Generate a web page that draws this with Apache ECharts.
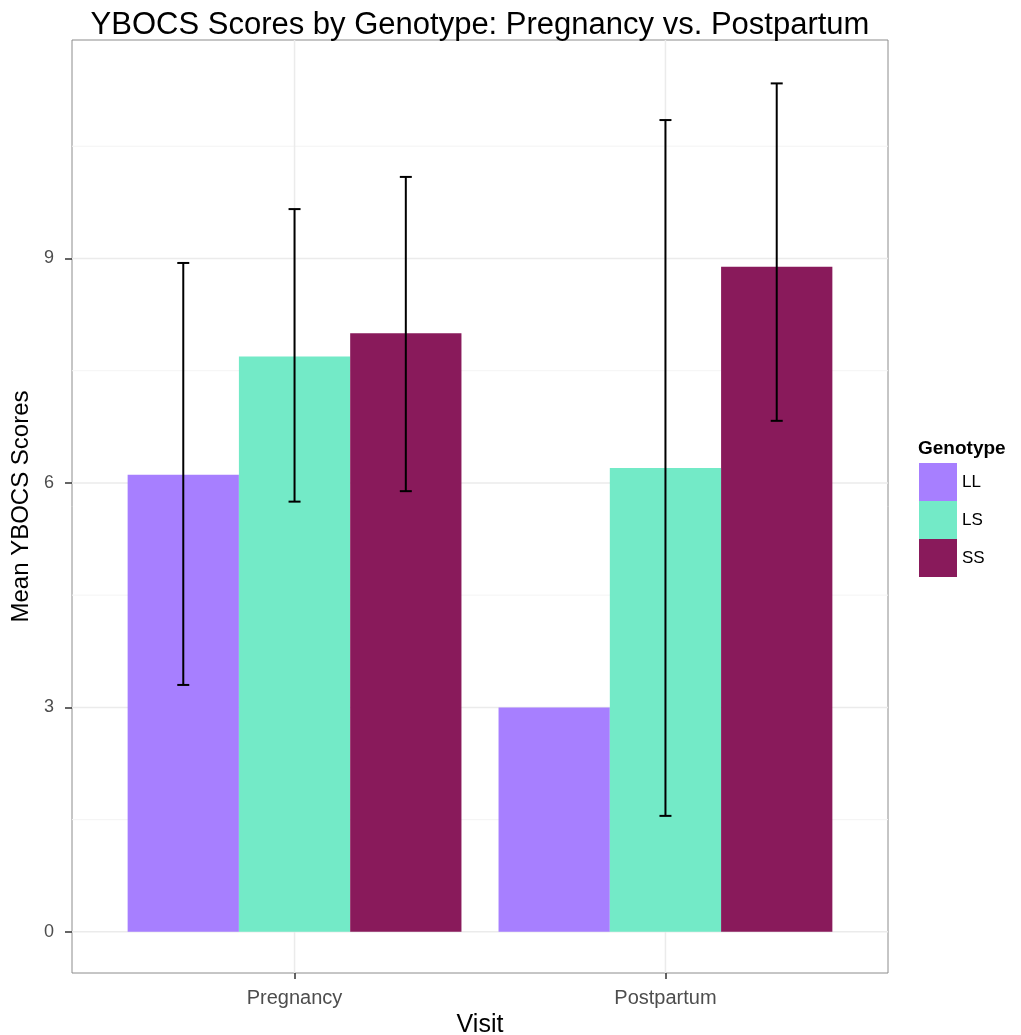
<!DOCTYPE html>
<html>
<head>
<meta charset="utf-8">
<script src="https://cdn.jsdelivr.net/npm/echarts@6/dist/echarts.min.js"></script>
<style>html,body{margin:0;padding:0;background:#fff}#c{width:1021px;height:1035px}</style>
</head>
<body>
<div id="c"></div>
<script>
var visits = ['Pregnancy', 'Postpartum'];
var genotypes = ['LL', 'LS', 'SS'];
var colors = ['#A77FFF', '#73EAC7', '#891A5B'];
var meanLL = [6.11, 3.0];
var meanLS = [7.69, 6.20];
var meanSS = [8.00, 8.89];
var lowLL = [3.30, null];
var highLL = [8.94, null];
var lowLS = [5.75, 1.55];
var highLS = [9.66, 10.85];
var lowSS = [5.89, 6.83];
var highSS = [10.09, 11.34];
var yTicks = [0, 3, 6, 9];
var yMinor = [1.5, 4.5, 7.5, 10.5];
var xTicks = [1, 2];

var means = [meanLL, meanLS, meanSS];
var lows = [lowLL, lowLS, lowSS];
var highs = [highLL, highLS, highSS];
var dodge = 0.3;
var FONT = 'Liberation Sans, Arial, sans-serif';

var chart = echarts.init(document.getElementById('c'));
var series = [];

series.push({
  type: 'custom', name: 'grid', silent: true, z: 0,
  data: [[0]],
  renderItem: function (params, api) {
    var cs = params.coordSys;
    var children = [];
    yMinor.forEach(function (v) {
      var p = api.coord([1, v]);
      children.push({type: 'line', shape: {x1: cs.x, y1: p[1], x2: cs.x + cs.width, y2: p[1]}, style: {stroke: '#F4F4F4', lineWidth: 1}});
    });
    yTicks.forEach(function (v) {
      var p = api.coord([1, v]);
      children.push({type: 'line', shape: {x1: cs.x, y1: p[1], x2: cs.x + cs.width, y2: p[1]}, style: {stroke: '#EBEBEB', lineWidth: 1.5}});
    });
    xTicks.forEach(function (v) {
      var p = api.coord([v, 0]);
      children.push({type: 'line', shape: {x1: p[0], y1: cs.y, x2: p[0], y2: cs.y + cs.height}, style: {stroke: '#EBEBEB', lineWidth: 1.5}});
    });
    return {type: 'group', children: children};
  }
});

genotypes.forEach(function (g, i) {
  var off = (i - 1) * dodge;
  series.push({
    type: 'custom', name: g, z: 2,
    itemStyle: {color: colors[i]},
    data: visits.map(function (v, j) { return [j + 1 + off, means[i][j]]; }),
    renderItem: function (params, api) {
      var x = api.value(0), y = api.value(1);
      var p0 = api.coord([x - dodge / 2, y]);
      var p1 = api.coord([x + dodge / 2, 0]);
      return {type: 'rect', shape: {x: p0[0], y: p0[1], width: p1[0] - p0[0], height: p1[1] - p0[1]}, style: {fill: colors[i]}};
    }
  });
});

genotypes.forEach(function (g, i) {
  var off = (i - 1) * dodge;
  var data = [];
  visits.forEach(function (v, j) {
    if (lows[i][j] != null) data.push([j + 1 + off, lows[i][j], highs[i][j]]);
  });
  series.push({
    type: 'custom', name: g + ' err', z: 3, silent: true,
    data: data,
    renderItem: function (params, api) {
      var x = api.value(0), lo = api.value(1), hi = api.value(2);
      var pl = api.coord([x, lo]);
      var ph = api.coord([x, hi]);
      var cw = 6;
      var st = {stroke: '#000', lineWidth: 2};
      return {type: 'group', children: [
        {type: 'line', shape: {x1: pl[0], y1: pl[1], x2: ph[0], y2: ph[1]}, style: st},
        {type: 'line', shape: {x1: ph[0] - cw, y1: ph[1], x2: ph[0] + cw, y2: ph[1]}, style: st},
        {type: 'line', shape: {x1: pl[0] - cw, y1: pl[1], x2: pl[0] + cw, y2: pl[1]}, style: st}
      ]};
    }
  });
});

chart.setOption({
  animation: false,
  backgroundColor: '#fff',
  textStyle: {fontFamily: FONT},
  title: {
    text: 'YBOCS Scores by Genotype: Pregnancy vs. Postpartum',
    left: 475, top: 5, textAlign: 'center',
    textStyle: {fontSize: 31, fontWeight: 'normal', color: '#000', fontFamily: FONT}
  },
  legend: {
    data: genotypes,
    orient: 'vertical', left: 919, top: 463, padding: 0,
    itemWidth: 38, itemHeight: 38, itemGap: 0,
    icon: 'rect',
    textStyle: {fontSize: 17, color: '#000'}
  },
  graphic: [{
    type: 'text', left: 918, top: 439,
    style: {text: 'Genotype', fontSize: 19, fontWeight: 'bold', fill: '#000', fontFamily: FONT}
  }],
  grid: {
    left: 72, right: 133, top: 40, bottom: 62,
    outerBoundsMode: 'none', containLabel: false,
    show: true, borderColor: '#8C8C8C', borderWidth: 1, backgroundColor: '#fff'
  },
  xAxis: {
    type: 'value', min: 0.4, max: 2.6,
    name: 'Visit', nameLocation: 'middle', nameGap: 38,
    nameTextStyle: {fontSize: 25, color: '#000'},
    axisLine: {show: false, onZero: false},
    axisTick: {show: true, customValues: xTicks, length: 6, lineStyle: {color: '#333', width: 1.5}},
    axisLabel: {customValues: xTicks, fontSize: 20, color: '#4D4D4D', margin: 15,
      formatter: function (v) { return visits[Math.round(v) - 1]; }},
    splitLine: {show: false}
  },
  yAxis: {
    type: 'value', min: -0.55, max: 11.92,
    name: 'Mean YBOCS Scores', nameLocation: 'middle', nameGap: 30, nameRotate: 90,
    nameTextStyle: {fontSize: 24, color: '#000'},
    axisLine: {show: false, onZero: false},
    axisTick: {show: true, customValues: yTicks, length: 7, lineStyle: {color: '#333', width: 1.5}},
    axisLabel: {customValues: yTicks, fontSize: 18, color: '#4D4D4D', margin: 18},
    splitLine: {show: false}
  },
  series: series
});
</script>
</body>
</html>
